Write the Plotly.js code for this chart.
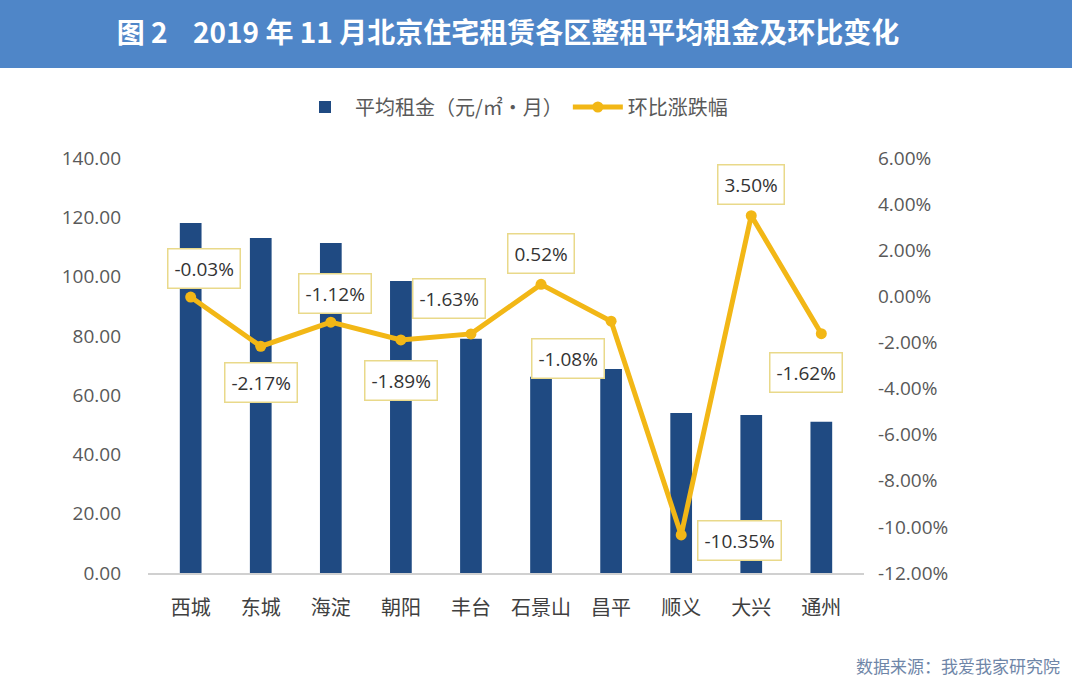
<!DOCTYPE html>
<html>
<head>
<meta charset="utf-8">
<script src="https://cdn.plot.ly/plotly-3.0.1.min.js"></script>
<style>
  html, body { margin: 0; padding: 0; background: #ffffff; }
  #chart { width: 1080px; height: 690px; }
</style>
</head>
<body>
<div id="chart"></div>
<script>
// ---- data ----
const districts = ['西城', '东城', '海淀', '朝阳', '丰台', '石景山', '昌平', '顺义', '大兴', '通州'];
const avgRent = [118.1, 113.0, 111.3, 98.5, 79.0, 66.2, 68.8, 54.0, 53.3, 51.0];
const momChange = [-0.03, -2.17, -1.12, -1.89, -1.63, 0.52, -1.08, -10.35, 3.50, -1.62];
const leftTickVals = [0, 20, 40, 60, 80, 100, 120, 140];
const leftTickText = ['0.00', '20.00', '40.00', '60.00', '80.00', '100.00', '120.00', '140.00'];
const rightTickVals = [-12, -10, -8, -6, -4, -2, 0, 2, 4, 6];
const rightTickText = ['-12.00%', '-10.00%', '-8.00%', '-6.00%', '-4.00%', '-2.00%', '0.00%', '2.00%', '4.00%', '6.00%'];
const seriesNames = ['平均租金（元/㎡·月）', '环比涨跌幅'];
const titleText = '图 2\u00a0\u00a0\u00a0 2019 年 11 月北京住宅租赁各区整租平均租金及环比变化';
const sourceText = '数据来源：我爱我家研究院';

// label offsets (pixels) for the change labels
const labelShift = [
  [13, 29], [0, -36], [4, 29], [0, -41], [-22, 35],
  [0, 31], [-43, -37], [58, -6], [0, 31], [-15, -39]
];

const numFont = 'Open Sans, Liberation Sans, sans-serif';
const cjkFont = 'Noto Sans CJK SC, sans-serif';

const traces = [
  {
    type: 'bar',
    name: seriesNames[0],
    x: districts,
    y: avgRent,
    width: 0.31,
    marker: { color: '#1f4a82' },
    hoverinfo: 'x+y'
  },
  {
    type: 'scatter',
    mode: 'lines+markers',
    name: seriesNames[1],
    x: districts,
    y: momChange,
    yaxis: 'y2',
    line: { color: '#f2b716', width: 5 },
    marker: { color: '#f2b716', size: 11 }
  }
];

const annotations = momChange.map((v, i) => ({
  x: districts[i],
  y: v,
  xref: 'x',
  yref: 'y2',
  text: (v.toFixed(2)) + '%',
  showarrow: false,
  xshift: labelShift[i][0],
  yshift: labelShift[i][1],
  font: { family: numFont, size: 19, color: '#333333' },
  bgcolor: '#ffffff',
  bordercolor: '#e9d98a',
  borderwidth: 1.5,
  borderpad: 6
}));

annotations.push({
  xref: 'paper', yref: 'paper',
  x: (1062 - 148) / 716, y: -(665 - 573) / 415,
  xanchor: 'right', yanchor: 'middle',
  text: sourceText,
  showarrow: false,
  font: { family: 'Noto Sans CJK SC, sans-serif', size: 17, color: '#6f86a8' }
});

const layout = {
  width: 1080,
  height: 690,
  margin: { l: 148, r: 216, t: 158, b: 117 },
  paper_bgcolor: '#ffffff',
  plot_bgcolor: '#ffffff',
  title: {
    text: titleText,
    font: { family: cjkFont, size: 28, color: '#ffffff', weight: 'bold' },
    x: 508 / 1080, xanchor: 'center',
    y: 1 - 33 / 690, yanchor: 'middle',
    xref: 'container', yref: 'container'
  },
  showlegend: true,
  legend: {
    orientation: 'h',
    x: (514 - 148) / 716, xanchor: 'center',
    y: 1 + (158 - 107) / 415, yanchor: 'middle',
    font: { family: cjkFont, size: 20, color: '#595959' },
    itemwidth: 50,
    traceorder: 'normal'
  },
  bargap: 0.69,
  xaxis: {
    type: 'category',
    showgrid: false,
    showline: true,
    linecolor: '#d0d0d0',
    linewidth: 1.5,
    ticks: '',
    ticklabelstandoff: 16,
    tickfont: { family: cjkFont, size: 20, color: '#404040' },
    zeroline: false
  },
  yaxis: {
    range: [0, 140],
    tickvals: leftTickVals,
    ticktext: leftTickText,
    showgrid: false,
    zeroline: false,
    showline: false,
    ticks: '',
    ticklabelstandoff: 26,
    tickfont: { family: numFont, size: 19, color: '#595959' }
  },
  yaxis2: {
    overlaying: 'y',
    side: 'right',
    range: [-12, 6],
    tickvals: rightTickVals,
    ticktext: rightTickText,
    showgrid: false,
    zeroline: false,
    showline: false,
    ticks: '',
    ticklabelstandoff: 13,
    tickfont: { family: numFont, size: 19, color: '#595959' }
  },
  shapes: [
    {
      type: 'rect',
      xref: 'paper', yref: 'paper',
      x0: -148 / 716, x1: (1072 - 148) / 716,
      y0: 1 + (158 - 68) / 415, y1: 1 + 158 / 415 + 0.01,
      fillcolor: '#4f86c8',
      line: { width: 0 },
      layer: 'below'
    }
  ],
  annotations: annotations
};

Plotly.newPlot('chart', traces, layout, { displayModeBar: false, staticPlot: true });
</script>
</body>
</html>
